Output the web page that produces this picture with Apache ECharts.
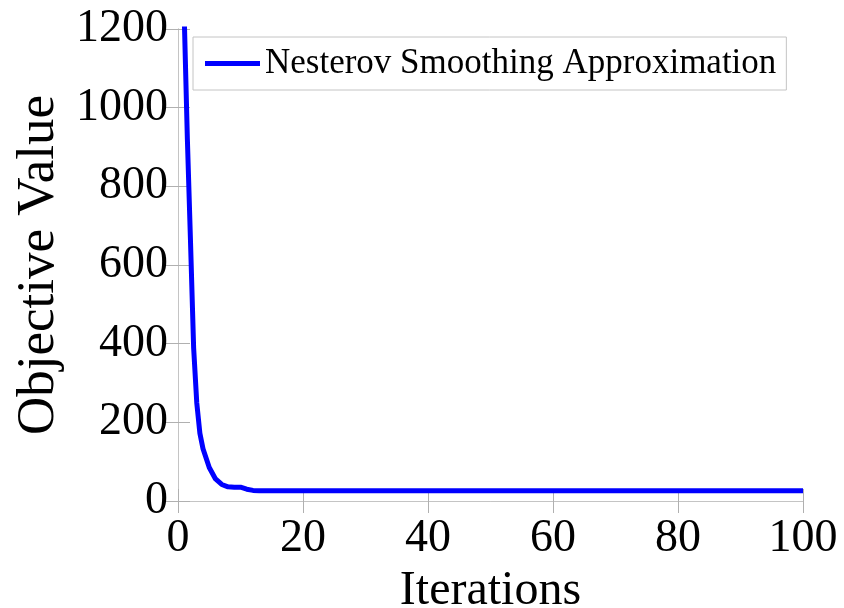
<!DOCTYPE html>
<html>
<head>
<meta charset="utf-8">
<script src="https://cdn.jsdelivr.net/npm/echarts@6/dist/echarts.min.js"></script>
<style>
html,body{margin:0;padding:0;background:#fff;}
#chart{width:844px;height:608px;}
</style>
</head>
<body>
<div id="chart"></div>
<script>
// Data
const iterations = [1, 1.5, 2, 2.5, 3, 3.5, 4, 5, 6, 7, 8, 9, 10, 11, 12, 13, 20, 40, 60, 80, 100];
const objectiveValues = [1230, 920, 660, 390, 250, 172, 133, 85, 56, 42, 36, 35, 35, 30, 27, 26, 26, 26, 26, 26, 26];
const seriesName = 'Nesterov Smoothing Approximation';
const xTicks = [0, 20, 40, 60, 80, 100];
const yTicks = [0, 200, 400, 600, 800, 1000, 1200];

const font = 'Liberation Serif, Times New Roman, serif';
const boxColor = '#c4c4c4';

const chart = echarts.init(document.getElementById('chart'));
const axisCommon = {
  axisLine: { show: true, lineStyle: { color: boxColor, width: 1 } },
  axisTick: { show: true, inside: true, length: 12, lineStyle: { color: '#b0b0b0', width: 1 } },
  splitLine: { show: false }
};
chart.setOption({
  backgroundColor: '#fff',
  animation: false,
  grid: { left: 178, top: 29, right: 41, bottom: 107, containLabel: false, outerBoundsMode: 'none' },
  legend: {
    data: [seriesName],
    left: 193, top: 37,
    icon: 'rect', itemWidth: 55, itemHeight: 5, itemGap: 0,
    padding: [9, 10, 9, 12],
    backgroundColor: '#fff', borderColor: boxColor, borderWidth: 1,
    textStyle: { fontFamily: font, fontSize: 35, color: '#000', padding: [0, 0, 0, 0] }
  },
  xAxis: [
    Object.assign({
      type: 'value', min: xTicks[0], max: xTicks[xTicks.length - 1], interval: 20,
      name: 'Iterations', nameLocation: 'middle', nameGap: 56,
      nameTextStyle: { fontFamily: font, fontSize: 48, color: '#000' },
      axisLabel: { fontFamily: font, fontSize: 46, color: '#000', margin: 15, formatter: v => String(v) }
    }, axisCommon),
    Object.assign({
      type: 'value', position: 'top', min: xTicks[0], max: xTicks[xTicks.length - 1], interval: 20,
      axisLabel: { show: false }
    }, axisCommon)
  ],
  yAxis: [
    Object.assign({
      type: 'value', min: yTicks[0], max: yTicks[yTicks.length - 1], interval: 200,
      name: 'Objective Value', nameLocation: 'middle', nameGap: 104, nameRotate: 90,
      nameTextStyle: { fontFamily: font, fontSize: 53, color: '#000' },
      axisLabel: { fontFamily: font, fontSize: 46, color: '#000', margin: 10, formatter: v => String(v) }
    }, axisCommon),
    Object.assign({
      type: 'value', position: 'right', min: yTicks[0], max: yTicks[yTicks.length - 1], interval: 200,
      axisLabel: { show: false }
    }, axisCommon)
  ],
  series: [{
    name: seriesName,
    type: 'line',
    data: iterations.map((x, i) => [x, objectiveValues[i]]),
    showSymbol: false,
    symbol: 'none',
    clip: true,
    smooth: false,
    lineStyle: { color: '#0000ff', width: 5 },
    itemStyle: { color: '#0000ff' }
  }]
});
</script>
</body>
</html>
